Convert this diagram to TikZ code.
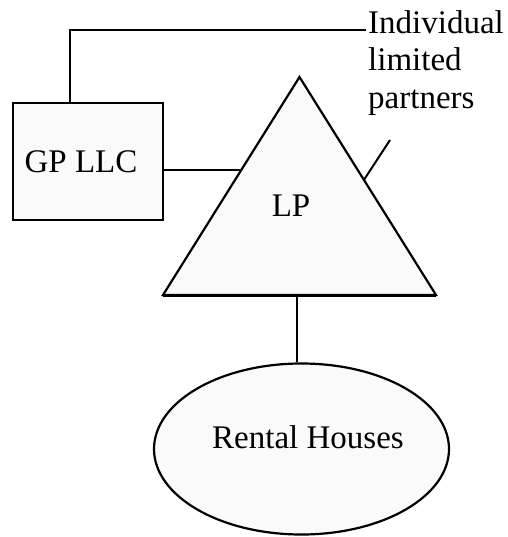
\documentclass[tikz,border=0pt]{standalone}
\usepackage{fontspec}
\setmainfont{Liberation Serif}
\usetikzlibrary{calc,shapes.geometric}
\begin{document}
\begin{tikzpicture}[x=1pt,y=-1pt,
  lbl/.style={font=\fontsize{33}{37.5}\selectfont, inner sep=0pt},
  shapeline/.style={line width=2.2pt, draw=black},
  conn/.style={line width=2pt},
  filled/.style={fill=gray!4}]
\useasboundingbox (0,0) rectangle (507,537);
% GP LLC box
\node[shapeline, filled, rectangle, minimum width=150pt, minimum height=117pt, lbl, inner sep=0pt] (gp) at (88,161.5) {};
\node[lbl] (gpt) at (81,162) {GP LLC};
% LP triangle
\coordinate (apex) at (299.5,77);
\coordinate (bl) at (163,295);
\coordinate (br) at (436,295);
\draw[shapeline, filled, line join=miter] (apex) -- (br) -- (bl) -- cycle;
\draw[line width=3pt] (bl) -- (br);
\node[lbl] (lp) at (291,206) {LP};
\coordinate (tl) at ($(apex)!0.427!(bl)$);
\coordinate (tr) at ($(apex)!0.472!(br)$);
\coordinate (bc) at (297,295);
% Rental houses ellipse
\node[ellipse, shapeline, filled, minimum width=295pt, minimum height=171pt] (rh) at (301.5,449) {};
\node[lbl] (rht) at (308,437) {Rental Houses};
% Individual limited partners
\node[lbl, align=left, anchor=north west] (ilp) at (368,10) {Individual\\limited\\partners};
\coordinate (ilpend) at (366,30);
\coordinate (lpend) at (390,140);
% connectors
\draw[conn] (70,103) |- (ilpend);
\draw[conn] (gp.east |- tl) -- (tl);
\draw[conn] (tr) -- (lpend);
\draw[conn] (bc) -- (bc |- rh.north);
\end{tikzpicture}
\end{document}
